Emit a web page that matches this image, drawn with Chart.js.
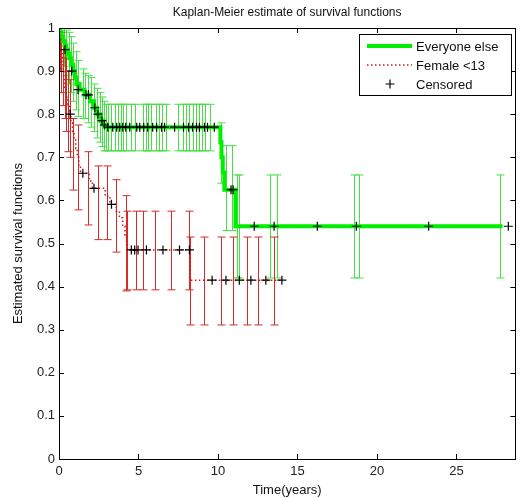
<!DOCTYPE html>
<html><head><meta charset="utf-8">
<script src="https://cdn.jsdelivr.net/npm/chart.js@4/dist/chart.umd.min.js"></script>
<style>html,body{margin:0;padding:0;background:#fff;}canvas{display:block;}</style>
</head><body>
<canvas id="c" width="521" height="498"></canvas>
<script>
// ---- Data ----
const chartTitle = "Kaplan-Meier estimate of survival functions";
const xTitle = "Time(years)";
const yTitle = "Estimated survival functions";
const seriesNames = ["Everyone else", "Female <13", "Censored"];

// Everyone else (step curve)
const greenT = [0,0.08,0.16,0.25,0.35,0.45,0.55,0.65,0.75,0.9,1.0,1.1,1.3,1.6,1.95,2.2,2.4,2.6,2.8,2.95,10.15,10.22,10.3,10.4,11.1,27.9];
const greenS = [1,0.99,0.98,0.97,0.96,0.95,0.94,0.93,0.915,0.90,0.885,0.87,0.857,0.845,0.83,0.815,0.80,0.785,0.775,0.77,0.735,0.70,0.665,0.625,0.54,0.54];
// Everyone else censored
const greenCensT = [0.38,0.8,1.2,1.7,1.85,2.25,2.45,2.7,2.85,3.07,3.38,3.63,3.82,4.01,4.2,4.45,4.89,5.08,5.33,5.58,5.89,6.14,6.45,6.64,7.27,7.83,8.15,8.4,8.65,8.83,9.15,9.34,9.77,10.82,10.95,12.28,13.53,16.25,18.7,23.25,28.26];
const greenCensS = [0.95,0.90,0.857,0.845,0.845,0.815,0.80,0.785,0.775,0.77,0.77,0.77,0.77,0.77,0.77,0.77,0.77,0.77,0.77,0.77,0.77,0.77,0.77,0.77,0.77,0.77,0.77,0.77,0.77,0.77,0.77,0.77,0.77,0.625,0.625,0.54,0.54,0.54,0.54,0.54,0.54];
// Everyone else confidence bounds
const greenCiT  = [0.15,0.3,0.45,0.6,0.75,0.9,1.05,1.2,1.5,1.65,1.85,2.0,2.2,2.4,2.55,2.7,2.85,2.95,3.1,3.3,3.5,3.7,3.9,4.0,4.2,4.5,4.75,5.3,5.5,5.6,5.8,6.1,6.3,6.5,6.7,7.5,7.8,8.0,8.2,8.4,8.6,8.8,9.0,9.2,9.5,10.2,10.5,10.85,11.2,11.35,13.25,13.7,18.55,18.85,27.74];
const greenCiLo = [0.93,0.91,0.89,0.87,0.85,0.83,0.81,0.795,0.79,0.79,0.78,0.77,0.76,0.745,0.735,0.725,0.715,0.715,0.715,0.715,0.715,0.715,0.715,0.715,0.715,0.715,0.715,0.715,0.715,0.715,0.715,0.715,0.715,0.715,0.715,0.715,0.715,0.715,0.715,0.715,0.715,0.715,0.715,0.715,0.715,0.64,0.53,0.53,0.42,0.42,0.42,0.42,0.42,0.42,0.42];
const greenCiHi = [1.0,1.0,0.995,0.99,0.98,0.965,0.945,0.925,0.905,0.895,0.89,0.885,0.87,0.86,0.85,0.84,0.83,0.823,0.823,0.823,0.823,0.823,0.823,0.823,0.823,0.823,0.823,0.823,0.823,0.823,0.823,0.823,0.823,0.823,0.823,0.823,0.823,0.823,0.823,0.823,0.823,0.823,0.823,0.823,0.823,0.78,0.727,0.727,0.659,0.659,0.659,0.659,0.659,0.659,0.659];

// Female <13 (step curve)
const redT = [0,0.05,0.1,0.15,0.2,0.25,0.3,0.35,0.45,0.55,0.65,0.75,0.85,0.95,1.05,1.15,1.25,1.35,1.9,2.1,2.9,3.2,3.6,3.8,4.0,4.15,4.25,4.3,8.22,14.0];
const redS = [1,0.98,0.96,0.94,0.92,0.90,0.88,0.86,0.84,0.82,0.80,0.78,0.76,0.74,0.72,0.70,0.68,0.663,0.645,0.628,0.61,0.591,0.575,0.56,0.54,0.52,0.50,0.485,0.415,0.415];
// Female <13 censored
const redCensT = [0.7,1.5,2.2,3.3,4.55,4.76,4.97,5.5,6.54,7.58,8.2,9.63,10.5,11.34,12.07,13.01,14.02];
const redCensS = [0.80,0.663,0.628,0.591,0.485,0.485,0.485,0.485,0.485,0.485,0.485,0.415,0.415,0.415,0.415,0.415,0.415];
// Female <13 confidence bounds
const redCiT  = [0.05,0.15,0.25,0.35,0.45,0.58,0.7,0.9,1.17,1.8,2.46,3.03,3.57,4.24,4.3,4.82,5.28,6.01,7.06,8.2,8.22,9.15,10.19,10.92,11.8,12.49,13.53];
const redCiLo = [0.90,0.85,0.82,0.79,0.76,0.713,0.70,0.624,0.578,0.543,0.509,0.509,0.48,0.39,0.3925,0.3925,0.3925,0.3925,0.3925,0.3925,0.311,0.311,0.311,0.311,0.311,0.311,0.311];
const redCiHi = [1.0,0.99,0.97,0.95,0.93,0.90,0.88,0.79,0.775,0.713,0.68,0.68,0.648,0.611,0.575,0.575,0.575,0.575,0.575,0.575,0.515,0.515,0.515,0.515,0.515,0.515,0.515];

const xTicks = [0,5,10,15,20,25];
const yTicks = [0,0.1,0.2,0.3,0.4,0.5,0.6,0.7,0.8,0.9,1];

// ---- helpers ----
const pts = (t, s) => t.map((v, i) => ({x: v, y: s[i]}));
const FONT = "'Liberation Sans', Arial, sans-serif";
const GREEN = '#00ee00', GREEN_BAR = '#44e044', RED = '#d01818', RED_BAR = '#d42a2a';

const errorBars = {
  id: 'errorBars',
  beforeDatasetsDraw(chart) {
    const {ctx, scales: {x, y}, chartArea: a} = chart;
    ctx.save();
    ctx.beginPath(); ctx.rect(a.left, a.top, a.right - a.left, a.bottom - a.top); ctx.clip();
    const draw = (T, L, H, col) => {
      ctx.strokeStyle = col; ctx.lineWidth = 1;
      T.forEach((t, i) => {
        const px = Math.round(x.getPixelForValue(t)) + 0.5;
        const yl = y.getPixelForValue(L[i]), yh = y.getPixelForValue(H[i]);
        ctx.beginPath();
        ctx.moveTo(px, yl); ctx.lineTo(px, yh);
        ctx.moveTo(px - 4, yl); ctx.lineTo(px + 4, yl);
        ctx.moveTo(px - 4, yh); ctx.lineTo(px + 4, yh);
        ctx.stroke();
      });
    };
    draw(greenCiT, greenCiLo, greenCiHi, GREEN_BAR);
    draw(redCiT, redCiLo, redCiHi, RED_BAR);
    ctx.restore();
  }
};

const frame = {
  id: 'frame',
  afterDraw(chart) {
    const {ctx, scales: {x, y}, chartArea: a} = chart;
    ctx.save();
    ctx.strokeStyle = '#000'; ctx.lineWidth = 1;
    ctx.strokeRect(Math.round(a.left) + 0.5, Math.round(a.top) + 0.5, Math.round(a.right - a.left), Math.round(a.bottom - a.top));
    ctx.beginPath();
    xTicks.forEach(v => {
      const px = Math.round(x.getPixelForValue(v)) + 0.5;
      ctx.moveTo(px, a.bottom); ctx.lineTo(px, a.bottom - 5);
      ctx.moveTo(px, a.top); ctx.lineTo(px, a.top + 5);
    });
    yTicks.forEach(v => {
      const py = Math.round(y.getPixelForValue(v)) + 0.5;
      ctx.moveTo(a.left, py); ctx.lineTo(a.left + 5, py);
      ctx.moveTo(a.right, py); ctx.lineTo(a.right - 5, py);
    });
    ctx.stroke();
    // title
    ctx.fillStyle = '#111'; ctx.font = '12px ' + FONT;
    ctx.textAlign = 'center'; ctx.textBaseline = 'middle';
    ctx.fillText(chartTitle, (a.left + a.right) / 2, 13);
    // legend
    const lx = 359, ly = 34, lw = 152, lh = 61;
    ctx.fillStyle = '#fff'; ctx.fillRect(lx, ly, lw, lh);
    ctx.strokeStyle = '#000'; ctx.strokeRect(lx + 0.5, ly + 0.5, lw, lh);
    ctx.font = '13px ' + FONT; ctx.textAlign = 'left'; ctx.fillStyle = '#111';
    const rows = [46, 65, 84];
    ctx.strokeStyle = GREEN; ctx.lineWidth = 4;
    ctx.beginPath(); ctx.moveTo(367, rows[0]); ctx.lineTo(412, rows[0]); ctx.stroke();
    ctx.strokeStyle = RED; ctx.lineWidth = 1.5; ctx.setLineDash([1.5, 2.5]);
    ctx.beginPath(); ctx.moveTo(367, rows[1]); ctx.lineTo(412, rows[1]); ctx.stroke();
    ctx.setLineDash([]);
    ctx.strokeStyle = '#000'; ctx.lineWidth = 1.2;
    ctx.beginPath(); ctx.moveTo(385.5, rows[2]); ctx.lineTo(394.5, rows[2]); ctx.moveTo(390, rows[2] - 4.5); ctx.lineTo(390, rows[2] + 4.5); ctx.stroke();
    seriesNames.forEach((n, i) => ctx.fillText(n, 416, rows[i] + 1));
    ctx.restore();
  }
};

new Chart(document.getElementById('c'), {
  data: {
    datasets: [
      {type: 'scatter', label: seriesNames[2] + ' A', data: pts(greenCensT, greenCensS), pointStyle: 'cross', pointRadius: 4.5, pointBorderColor: '#000', pointBorderWidth: 1.2, order: 0},
      {type: 'scatter', label: seriesNames[2] + ' B', data: pts(redCensT, redCensS), pointStyle: 'cross', pointRadius: 4.5, pointBorderColor: '#000', pointBorderWidth: 1.2, order: 1},
      {type: 'line', label: seriesNames[1], data: pts(redT, redS), stepped: 'before', borderColor: RED, borderWidth: 1.5, borderDash: [1.5, 2.5], pointRadius: 0, fill: false, order: 2},
      {type: 'line', label: seriesNames[0], data: pts(greenT, greenS), stepped: 'before', borderColor: GREEN, borderWidth: 4, pointRadius: 0, fill: false, order: 3}
    ]
  },
  options: {
    responsive: false, animation: false,
    layout: {padding: {top: 28, right: 4, left: 0, bottom: 0}},
    plugins: {legend: {display: false}, tooltip: {enabled: false}, title: {display: false}},
    scales: {
      x: {type: 'linear', min: 0, max: 28.7,
        afterBuildTicks: s => { s.ticks = xTicks.map(v => ({value: v})); },
        afterFit: s => { s.height = 39; },
        grid: {display: false, drawTicks: false}, border: {display: false},
        ticks: {padding: 5, color: '#222', font: {family: FONT, size: 13}, maxRotation: 0},
        title: {display: true, text: xTitle, color: '#111', font: {family: FONT, size: 13}, padding: {top: 2, bottom: 0}}
      },
      y: {type: 'linear', min: 0, max: 1,
        afterBuildTicks: s => { s.ticks = yTicks.map(v => ({value: v})); },
        afterFit: s => { s.width = 59; },
        grid: {display: false, drawTicks: false}, border: {display: false},
        ticks: {padding: 4, color: '#222', font: {family: FONT, size: 13}, callback: v => String(Math.round(v * 10) / 10)},
        title: {display: true, text: yTitle, color: '#111', font: {family: FONT, size: 13}, padding: {top: 11, bottom: 4}}
      }
    }
  },
  plugins: [errorBars, frame]
});
</script>
</body></html>
